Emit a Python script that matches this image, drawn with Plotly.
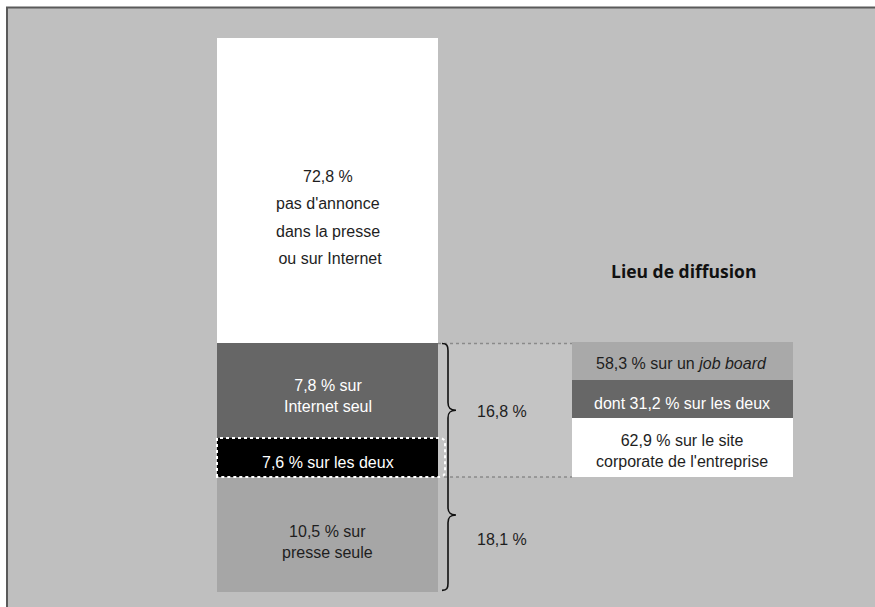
import plotly.graph_objects as go

# ---------------- data ----------------
# Left stacked bar (bottom -> top)
bar_labels = [
    "10,5 % sur<br>presse seule",
    "7,6 % sur les deux",
    "7,8 % sur<br>Internet seul",
]
top_label_lines = ["72,8 %", "pas d'annonce", "dans la presse", " ou sur Internet"]
bar_values = [10.5, 7.6, 7.8, 72.8]
# heights of the segments as drawn in the (schematic, non-proportional) source
bar_heights = [20.76, 7.04, 17.06, 55.14]

# Brace totals
brace_labels = ["18,1 %", "16,8 %"]
brace_values = [18.1, 16.8]

# "Lieu de diffusion" box (bottom -> top)
diff_labels = [
    "62,9 % sur le site<br>corporate de l'entreprise",
    "dont 31,2 % sur les deux",
    "58,3 % sur un <i>job board</i>",
]
diff_values = [62.9, 31.2, 58.3]
diff_heights = [10.65, 6.86, 6.77]
diff_title = "Lieu de diffusion"

# ---------------- styling / layout ----------------
W, H = 875, 607
PXU = 554 / 100.0          # pixels per y unit
Y0 = -15 / PXU             # bottom of figure
Y1 = 100 + 38 / PXU        # top of figure

BAR_X, BAR_W = 327.5, 221
BOX_X, BOX_W = 682.5, 221
BG = "#bfbfbf"
TXT = "#1e1e1e"
FONT = "Liberation Sans, Arial, sans-serif"
FS = 16

bar_colors = ["#a6a6a6", "#000000", "#666666", "#ffffff"]
diff_colors = ["#ffffff", "#676767", "#a9a9a9"]

fig = go.Figure()

# cumulative bases
bases = []
acc = 0.0
for h in bar_heights:
    bases.append(acc)
    acc += h

for h, b, c in zip(bar_heights, bases, bar_colors):
    fig.add_trace(go.Bar(x=[BAR_X], y=[h], base=[b], width=BAR_W,
                         marker=dict(color=c, line=dict(width=0)),
                         hoverinfo="skip", showlegend=False))

box_base0 = bases[1]
dbases = []
acc = box_base0
for h in diff_heights:
    dbases.append(acc)
    acc += h
box_top = acc
for h, b, c in zip(diff_heights, dbases, diff_colors):
    fig.add_trace(go.Bar(x=[BOX_X], y=[h], base=[b], width=BOX_W,
                         marker=dict(color=c, line=dict(width=0)),
                         hoverinfo="skip", showlegend=False))

shapes = []
# panel background with top/left frame
shapes.append(dict(type="rect", xref="x", yref="paper", x0=7, x1=W + 10,
                   y0=-0.05, y1=1 - 7.5 / H, fillcolor=BG,
                   line=dict(color="#5a5a5a", width=2), layer="below"))

bar_left = BAR_X - BAR_W / 2
bar_right = BAR_X + BAR_W / 2
box_left = BOX_X - BOX_W / 2
net_bottom = bases[1]
net_top = bases[2] + bar_heights[2]

# lighter connecting area between bar and box
shapes.append(dict(type="rect", xref="x", yref="y", x0=bar_right, x1=box_left,
                   y0=net_bottom, y1=net_top, fillcolor="#c4c4c4",
                   line=dict(width=0), layer="below"))
for yy in (net_bottom, net_top):
    shapes.append(dict(type="line", xref="x", yref="y", x0=bar_right, x1=box_left,
                       y0=yy, y1=yy, line=dict(color="#8a8a8a", width=1.5, dash="dot")))

# dotted white outline around the black segment (rounded right side)
b0, b1 = bases[1], bases[1] + bar_heights[1]
r = 1.2
path = (f"M {bar_left},{b0} L {bar_left},{b1} L {bar_right+1},{b1} "
        f"C {bar_right+6},{b1} {bar_right+7},{b1-r*0.4} {bar_right+7},{b1-r} "
        f"L {bar_right+7},{b0+r} "
        f"C {bar_right+7},{b0+r*0.4} {bar_right+6},{b0} {bar_right+1},{b0} Z")
shapes.append(dict(type="path", xref="x", yref="y", path=path,
                   line=dict(color="#ffffff", width=2, dash="dot")))

# braces
bx = 448
up_mid = (net_bottom + net_top) / 2
low_tip = 0 + 0.67 * bar_heights[0]
low_bot = 0.3
c = 1.3
t = 1.4
path = (f"M {bx-6},{net_top} C {bx-1},{net_top} {bx},{net_top-0.4} {bx},{net_top-c} "
        f"L {bx},{up_mid+t} C {bx},{up_mid+0.4} {bx+2},{up_mid} {bx+8},{up_mid} "
        f"C {bx+2},{up_mid} {bx},{up_mid-0.4} {bx},{up_mid-t} "
        f"L {bx},{low_tip+t} C {bx},{low_tip+0.4} {bx+2},{low_tip} {bx+8},{low_tip} "
        f"C {bx+2},{low_tip} {bx},{low_tip-0.4} {bx},{low_tip-t} "
        f"L {bx},{low_bot+c} C {bx},{low_bot+0.4} {bx-1},{low_bot} {bx-6},{low_bot}")
shapes.append(dict(type="path", xref="x", yref="y", path=path,
                   line=dict(color="#111111", width=1.6)))

ann = []
def add(text, x, y, color=TXT, yshift=0, size=FS, family=FONT):
    ann.append(dict(text=text, x=x, y=y, xref="x", yref="y", showarrow=False,
                    font=dict(color=color, size=size, family=family),
                    xanchor="center", yanchor="middle", yshift=yshift, align="center"))

mids = [b + h / 2 for b, h in zip(bases, bar_heights)]
add(bar_labels[0], BAR_X, mids[0], TXT, yshift=-7.5)
add(bar_labels[1], BAR_X, mids[1], "#ffffff", yshift=-5.5)
add(bar_labels[2], BAR_X, mids[2], "#ffffff", yshift=-5)
for i, line in enumerate(top_label_lines):
    add(line, BAR_X, mids[3], TXT, yshift=14.5 - 27.5 * i)

add(brace_labels[1], 502, up_mid, TXT, yshift=-1.5)
add(brace_labels[0], 502, mids[0], TXT, yshift=-5.5)

dmids = [b + h / 2 for b, h in zip(dbases, diff_heights)]
add(diff_labels[0], BOX_X - 1, dmids[0], TXT, yshift=-3.5)
add(diff_labels[1], BOX_X - 1, dmids[1], "#ffffff", yshift=-5)
add(diff_labels[2], BOX_X - 1, dmids[2], TXT, yshift=-2)
add(f"<b>{diff_title}</b>", BOX_X + 0.5, box_top, "#111111", yshift=71,
    size=17.5, family="Open Sans, sans-serif")

fig.update_layout(
    width=W, height=H,
    margin=dict(l=0, r=0, t=0, b=0),
    paper_bgcolor="#ffffff",
    plot_bgcolor="rgba(0,0,0,0)",
    barmode="overlay",
    bargap=0,
    xaxis=dict(range=[0, W], visible=False, fixedrange=True),
    yaxis=dict(range=[Y0, Y1], visible=False, fixedrange=True),
    shapes=shapes,
    annotations=ann,
    showlegend=False,
)

fig.write_html("out.html",
               config={"displayModeBar": False},
               post_script="document.body.style.margin='0';document.body.style.overflow='hidden';")
